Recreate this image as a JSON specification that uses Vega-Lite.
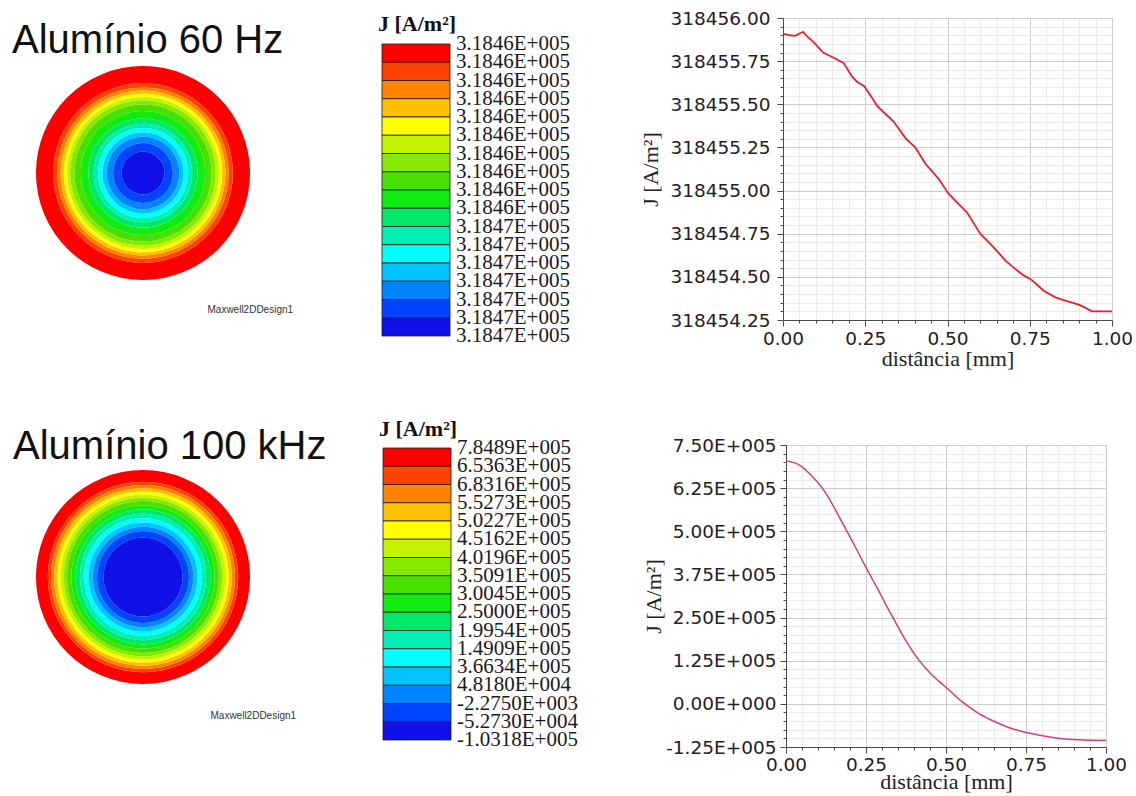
{
  "$schema": "https://vega.github.io/schema/vega-lite/v6.json",
  "background": "white",
  "padding": {"left": 12, "top": 8, "right": 2, "bottom": 0},
  "config": {"view": {"stroke": null}},
  "datasets": {
    "disc60": [
      {"band": 0, "ri": 0.84, "ro": 1.0}, {"band": 1, "ri": 0.80, "ro": 0.84}, {"band": 2, "ri": 0.77, "ro": 0.80},
      {"band": 3, "ri": 0.74, "ro": 0.77}, {"band": 4, "ri": 0.71, "ro": 0.74}, {"band": 5, "ri": 0.68, "ro": 0.71},
      {"band": 6, "ri": 0.64, "ro": 0.68}, {"band": 7, "ri": 0.58, "ro": 0.64}, {"band": 8, "ri": 0.51, "ro": 0.58},
      {"band": 9, "ri": 0.46, "ro": 0.51}, {"band": 10, "ri": 0.42, "ro": 0.46}, {"band": 11, "ri": 0.38, "ro": 0.42},
      {"band": 12, "ri": 0.34, "ro": 0.38}, {"band": 13, "ri": 0.28, "ro": 0.34}, {"band": 14, "ri": 0.20, "ro": 0.28},
      {"band": 15, "ri": 0.0, "ro": 0.20}
    ],
    "disc100": [
      {"band": 0, "ri": 0.89, "ro": 1.0}, {"band": 1, "ri": 0.86, "ro": 0.89}, {"band": 2, "ri": 0.83, "ro": 0.86},
      {"band": 3, "ri": 0.80, "ro": 0.83}, {"band": 4, "ri": 0.77, "ro": 0.80}, {"band": 5, "ri": 0.74, "ro": 0.77},
      {"band": 6, "ri": 0.71, "ro": 0.74}, {"band": 7, "ri": 0.67, "ro": 0.71}, {"band": 8, "ri": 0.63, "ro": 0.67},
      {"band": 9, "ri": 0.59, "ro": 0.63}, {"band": 10, "ri": 0.55, "ro": 0.59}, {"band": 11, "ri": 0.51, "ro": 0.55},
      {"band": 12, "ri": 0.47, "ro": 0.51}, {"band": 13, "ri": 0.43, "ro": 0.47}, {"band": 14, "ri": 0.37, "ro": 0.43},
      {"band": 15, "ri": 0.0, "ro": 0.37}
    ],
    "bands": [
      {"band": 0, "y0": 0, "y1": 1}, {"band": 1, "y0": 1, "y1": 2}, {"band": 2, "y0": 2, "y1": 3}, {"band": 3, "y0": 3, "y1": 4},
      {"band": 4, "y0": 4, "y1": 5}, {"band": 5, "y0": 5, "y1": 6}, {"band": 6, "y0": 6, "y1": 7}, {"band": 7, "y0": 7, "y1": 8},
      {"band": 8, "y0": 8, "y1": 9}, {"band": 9, "y0": 9, "y1": 10}, {"band": 10, "y0": 10, "y1": 11}, {"band": 11, "y0": 11, "y1": 12},
      {"band": 12, "y0": 12, "y1": 13}, {"band": 13, "y0": 13, "y1": 14}, {"band": 14, "y0": 14, "y1": 15}, {"band": 15, "y0": 15, "y1": 16}
    ],
    "labels60": [
      {"lvl": 0, "label": "3.1846E+005"}, {"lvl": 1, "label": "3.1846E+005"}, {"lvl": 2, "label": "3.1846E+005"},
      {"lvl": 3, "label": "3.1846E+005"}, {"lvl": 4, "label": "3.1846E+005"}, {"lvl": 5, "label": "3.1846E+005"},
      {"lvl": 6, "label": "3.1846E+005"}, {"lvl": 7, "label": "3.1846E+005"}, {"lvl": 8, "label": "3.1846E+005"},
      {"lvl": 9, "label": "3.1846E+005"}, {"lvl": 10, "label": "3.1847E+005"}, {"lvl": 11, "label": "3.1847E+005"},
      {"lvl": 12, "label": "3.1847E+005"}, {"lvl": 13, "label": "3.1847E+005"}, {"lvl": 14, "label": "3.1847E+005"},
      {"lvl": 15, "label": "3.1847E+005"}, {"lvl": 16, "label": "3.1847E+005"}
    ],
    "labels100": [
      {"lvl": 0, "label": "7.8489E+005"}, {"lvl": 1, "label": "6.5363E+005"}, {"lvl": 2, "label": "6.8316E+005"},
      {"lvl": 3, "label": "5.5273E+005"}, {"lvl": 4, "label": "5.0227E+005"}, {"lvl": 5, "label": "4.5162E+005"},
      {"lvl": 6, "label": "4.0196E+005"}, {"lvl": 7, "label": "3.5091E+005"}, {"lvl": 8, "label": "3.0045E+005"},
      {"lvl": 9, "label": "2.5000E+005"}, {"lvl": 10, "label": "1.9954E+005"}, {"lvl": 11, "label": "1.4909E+005"},
      {"lvl": 12, "label": "3.6634E+005"}, {"lvl": 13, "label": "4.8180E+004"}, {"lvl": 14, "label": "-2.2750E+003"},
      {"lvl": 15, "label": "-5.2730E+004"}, {"lvl": 16, "label": "-1.0318E+005"}
    ],
    "j60": [
      {"d": 0.000, "J": 318455.91}, {"d": 0.020, "J": 318455.90}, {"d": 0.037, "J": 318455.897}, {"d": 0.050, "J": 318455.91},
      {"d": 0.061, "J": 318455.92}, {"d": 0.075, "J": 318455.89}, {"d": 0.093, "J": 318455.86}, {"d": 0.122, "J": 318455.80},
      {"d": 0.154, "J": 318455.77}, {"d": 0.184, "J": 318455.74}, {"d": 0.210, "J": 318455.66}, {"d": 0.225, "J": 318455.63},
      {"d": 0.247, "J": 318455.605}, {"d": 0.270, "J": 318455.54}, {"d": 0.286, "J": 318455.49}, {"d": 0.311, "J": 318455.445},
      {"d": 0.336, "J": 318455.40}, {"d": 0.355, "J": 318455.35}, {"d": 0.374, "J": 318455.30}, {"d": 0.402, "J": 318455.25},
      {"d": 0.433, "J": 318455.155}, {"d": 0.473, "J": 318455.068}, {"d": 0.502, "J": 318454.985}, {"d": 0.529, "J": 318454.932},
      {"d": 0.559, "J": 318454.874}, {"d": 0.580, "J": 318454.81}, {"d": 0.600, "J": 318454.749}, {"d": 0.630, "J": 318454.691},
      {"d": 0.655, "J": 318454.64}, {"d": 0.676, "J": 318454.594}, {"d": 0.706, "J": 318454.546}, {"d": 0.730, "J": 318454.51},
      {"d": 0.752, "J": 318454.488}, {"d": 0.775, "J": 318454.45}, {"d": 0.792, "J": 318454.42}, {"d": 0.828, "J": 318454.381},
      {"d": 0.858, "J": 318454.362}, {"d": 0.899, "J": 318454.339}, {"d": 0.920, "J": 318454.32}, {"d": 0.939, "J": 318454.30},
      {"d": 1.000, "J": 318454.30}
    ],
    "j100": [
      {"d": 0.000, "J": 704000}, {"d": 0.042, "J": 692000}, {"d": 0.083, "J": 658000}, {"d": 0.125, "J": 610000},
      {"d": 0.166, "J": 542000}, {"d": 0.208, "J": 470000}, {"d": 0.249, "J": 397000}, {"d": 0.291, "J": 325000},
      {"d": 0.333, "J": 252000}, {"d": 0.374, "J": 184000}, {"d": 0.416, "J": 126000}, {"d": 0.457, "J": 83000},
      {"d": 0.499, "J": 49000}, {"d": 0.551, "J": 5500}, {"d": 0.603, "J": -28000}, {"d": 0.655, "J": -52500},
      {"d": 0.707, "J": -72000}, {"d": 0.759, "J": -84500}, {"d": 0.811, "J": -94000}, {"d": 0.863, "J": -100800},
      {"d": 0.915, "J": -104000}, {"d": 1.000, "J": -106000}
    ]
  },
  "spacing": 48,
  "vconcat": [
    {
      "spacing": 69,
      "hconcat": [
        {
          "spacing": 85,
          "hconcat": [
            {
              "width": 220, "height": 310,
              "data": {"name": "disc60"},
              "title": {"text": "Alumínio 60 Hz", "anchor": "start", "frame": "group", "offset": -43, "dx": -21, "font": "Liberation Sans", "fontSize": 40, "fontWeight": "normal", "color": "#111111"},
              "mark": {"type": "arc", "theta": 0, "theta2": 6.2832},
              "encoding": {
                "x": {"datum": 0, "type": "quantitative", "scale": {"domain": [-1, 1], "nice": false},
                      "axis": {"title": "Maxwell2DDesign1", "labels": false, "ticks": false, "domain": false, "grid": false, "titleX": 174, "titleY": -19, "titleAlign": "left", "titleBaseline": "middle", "titleFont": "Liberation Sans", "titleFontSize": 10, "titleFontWeight": "normal", "titleColor": "#333333"}},
                "radius": {"field": "ro", "type": "quantitative", "scale": {"type": "linear", "domain": [0, 1], "range": [0, 107], "zero": true}},
                "radius2": {"field": "ri"},
                "color": {"field": "band", "type": "ordinal", "legend": null,
                          "scale": {"domain": [0,1,2,3,4,5,6,7,8,9,10,11,12,13,14,15], "range": ["#ff0000","#ff4200","#ff8200","#ffc000","#ffff00","#c4f400","#88e800","#48e000","#10ec10","#00e868","#00f0b4","#00ffff","#00c4ff","#0084ff","#0044ff","#1010e8"]}}
              }
            },
            {
              "width": 68, "height": 318,
              "title": {"text": "J [A/m²]", "anchor": "start", "frame": "group", "offset": -18, "dx": -4, "font": "Liberation Serif", "fontSize": 22, "fontWeight": "bold", "color": "#111111"},
              "layer": [
                {
                  "data": {"name": "bands"},
                  "mark": {"type": "rect", "stroke": "#1a1a1a", "strokeWidth": 0.8},
                  "encoding": {
                    "y": {"field": "y0", "type": "quantitative", "scale": {"domain": [0, 16], "range": [26, 318]}, "axis": null},
                    "y2": {"field": "y1"},
                    "color": {"field": "band", "type": "ordinal", "legend": null,
                              "scale": {"domain": [0,1,2,3,4,5,6,7,8,9,10,11,12,13,14,15], "range": ["#ff0000","#ff4200","#ff8200","#ffc000","#ffff00","#c4f400","#88e800","#48e000","#10ec10","#00e868","#00f0b4","#00ffff","#00c4ff","#0084ff","#0044ff","#1010e8"]}}
                  }
                },
                {
                  "data": {"name": "labels60"},
                  "mark": {"type": "text", "x": "width", "dx": 6, "align": "left", "baseline": "middle", "font": "Liberation Serif", "fontSize": 21, "color": "#1a1a1a"},
                  "encoding": {
                    "y": {"field": "lvl", "type": "quantitative"},
                    "text": {"field": "label"}
                  }
                }
              ]
            }
          ]
        },
        {
          "width": 329, "height": 302,
          "view": {"stroke": "#9a9a9a"},
          "data": {"name": "j60"},
          "mark": {"type": "line", "color": "#e8202a", "strokeWidth": 1.8},
          "encoding": {
            "x": {"field": "d", "type": "quantitative", "scale": {"domain": [0, 1], "nice": false, "zero": false},
                  "axis": {"title": "distância [mm]", "values": [0,0.05,0.1,0.15,0.2,0.25,0.3,0.35,0.4,0.45,0.5,0.55,0.6,0.65,0.7,0.75,0.8,0.85,0.9,0.95,1],
                           "labelExpr": "abs(datum.value*4 - round(datum.value*4)) < 0.001 ? format(datum.value, '.2f') : ''",
                           "labelOverlap": false, "labelFlush": false, "labelFont": "DejaVu Sans", "labelFontSize": 18.5, "labelColor": "#222222", "labelPadding": 3,
                           "tickSize": {"condition": {"test": "abs(datum.value*4 - round(datum.value*4)) < 0.001", "value": 6}, "value": 3},
                           "tickColor": "#4a4a4a", "domainColor": "#4a4a4a", "grid": true,
                           "gridColor": {"condition": {"test": "abs(datum.value*4 - round(datum.value*4)) < 0.001", "value": "#cccccc"}, "value": "#ebebeb"},
                           "titleFont": "Liberation Serif", "titleFontSize": 22, "titleFontWeight": "normal", "titleColor": "#222222", "titlePadding": 1}},
            "y": {"field": "J", "type": "quantitative", "scale": {"domain": [318454.25, 318456], "nice": false, "zero": false},
                  "axis": {"title": "J [A/m²]", "values": [318454.25,318454.3,318454.35,318454.4,318454.45,318454.5,318454.55,318454.6,318454.65,318454.7,318454.75,318454.8,318454.85,318454.9,318454.95,318455,318455.05,318455.1,318455.15,318455.2,318455.25,318455.3,318455.35,318455.4,318455.45,318455.5,318455.55,318455.6,318455.65,318455.7,318455.75,318455.8,318455.85,318455.9,318455.95,318456],
                           "labelExpr": "abs(datum.value*4 - round(datum.value*4)) < 0.001 ? format(datum.value, '.2f') : ''",
                           "labelOverlap": false, "labelFont": "DejaVu Sans", "labelFontSize": 18.5, "labelColor": "#222222", "labelPadding": 7,
                           "tickSize": {"condition": {"test": "abs(datum.value*4 - round(datum.value*4)) < 0.001", "value": 6}, "value": 3},
                           "tickColor": "#4a4a4a", "domainColor": "#4a4a4a", "grid": true,
                           "gridColor": {"condition": {"test": "abs(datum.value*4 - round(datum.value*4)) < 0.001", "value": "#cccccc"}, "value": "#ebebeb"},
                           "titleFont": "Liberation Serif", "titleFontSize": 22, "titleFontWeight": "normal", "titleColor": "#222222", "titlePadding": 7}}
          }
        }
      ]
    },
    {
      "spacing": 64,
      "hconcat": [
        {
          "spacing": 52,
          "hconcat": [
            {
              "width": 220, "height": 264,
              "data": {"name": "disc100"},
              "title": {"text": "Alumínio 100 kHz", "anchor": "start", "frame": "group", "offset": -22, "dx": -20, "font": "Liberation Sans", "fontSize": 40, "fontWeight": "normal", "color": "#111111"},
              "mark": {"type": "arc", "theta": 0, "theta2": 6.2832},
              "encoding": {
                "x": {"datum": 0, "type": "quantitative", "scale": {"domain": [-1, 1], "nice": false},
                      "axis": {"title": "Maxwell2DDesign1", "labels": false, "ticks": false, "domain": false, "grid": false, "titleX": 177, "titleY": 6, "titleAlign": "left", "titleBaseline": "middle", "titleFont": "Liberation Sans", "titleFontSize": 10, "titleFontWeight": "normal", "titleColor": "#333333"}},
                "radius": {"field": "ro", "type": "quantitative", "scale": {"type": "linear", "domain": [0, 1], "range": [0, 107], "zero": true}},
                "radius2": {"field": "ri"},
                "color": {"field": "band", "type": "ordinal", "legend": null,
                          "scale": {"domain": [0,1,2,3,4,5,6,7,8,9,10,11,12,13,14,15], "range": ["#ff0000","#ff4200","#ff8200","#ffc000","#ffff00","#c4f400","#88e800","#48e000","#10ec10","#00e868","#00f0b4","#00ffff","#00c4ff","#0084ff","#0044ff","#1010e8"]}}
              }
            },
            {
              "width": 68, "height": 295,
              "title": {"text": "J [A/m²]", "anchor": "start", "frame": "group", "offset": -4, "dx": -4, "font": "Liberation Serif", "fontSize": 22, "fontWeight": "bold", "color": "#111111"},
              "layer": [
                {
                  "data": {"name": "bands"},
                  "mark": {"type": "rect", "stroke": "#1a1a1a", "strokeWidth": 0.8},
                  "encoding": {
                    "y": {"field": "y0", "type": "quantitative", "scale": {"domain": [0, 16], "range": [3, 295]}, "axis": null},
                    "y2": {"field": "y1"},
                    "color": {"field": "band", "type": "ordinal", "legend": null,
                              "scale": {"domain": [0,1,2,3,4,5,6,7,8,9,10,11,12,13,14,15], "range": ["#ff0000","#ff4200","#ff8200","#ffc000","#ffff00","#c4f400","#88e800","#48e000","#10ec10","#00e868","#00f0b4","#00ffff","#00c4ff","#0084ff","#0044ff","#1010e8"]}}
                  }
                },
                {
                  "data": {"name": "labels100"},
                  "mark": {"type": "text", "x": "width", "dx": 6, "align": "left", "baseline": "middle", "font": "Liberation Serif", "fontSize": 21, "color": "#1a1a1a"},
                  "encoding": {
                    "y": {"field": "lvl", "type": "quantitative"},
                    "text": {"field": "label"}
                  }
                }
              ]
            }
          ]
        },
        {
          "width": 320, "height": 302,
          "view": {"stroke": "#9a9a9a"},
          "data": {"name": "j100"},
          "mark": {"type": "line", "color": "#d4406a", "strokeWidth": 1.5, "interpolate": "monotone"},
          "encoding": {
            "x": {"field": "d", "type": "quantitative", "scale": {"domain": [0, 1], "nice": false, "zero": false},
                  "axis": {"title": "distância [mm]", "values": [0,0.05,0.1,0.15,0.2,0.25,0.3,0.35,0.4,0.45,0.5,0.55,0.6,0.65,0.7,0.75,0.8,0.85,0.9,0.95,1],
                           "labelExpr": "abs(datum.value*4 - round(datum.value*4)) < 0.001 ? format(datum.value, '.2f') : ''",
                           "labelOverlap": false, "labelFlush": false, "labelFont": "DejaVu Sans", "labelFontSize": 18.5, "labelColor": "#222222", "labelPadding": 2,
                           "tickSize": {"condition": {"test": "abs(datum.value*4 - round(datum.value*4)) < 0.001", "value": 6}, "value": 3},
                           "tickColor": "#4a4a4a", "domainColor": "#4a4a4a", "grid": true,
                           "gridColor": {"condition": {"test": "abs(datum.value*4 - round(datum.value*4)) < 0.001", "value": "#cccccc"}, "value": "#ebebeb"},
                           "titleFont": "Liberation Serif", "titleFontSize": 22, "titleFontWeight": "normal", "titleColor": "#222222", "titlePadding": -2}},
            "y": {"field": "J", "type": "quantitative", "scale": {"domain": [-125000, 750000], "nice": false, "zero": false},
                  "axis": {"title": "J [A/m²]", "values": [-125000,-100000,-75000,-50000,-25000,0,25000,50000,75000,100000,125000,150000,175000,200000,225000,250000,275000,300000,325000,350000,375000,400000,425000,450000,475000,500000,525000,550000,575000,600000,625000,650000,675000,700000,725000,750000],
                           "labelExpr": "abs(datum.value/125000 - round(datum.value/125000)) < 0.000001 ? (datum.value == 0 ? '0.00E+000' : (datum.value < 0 ? '-' : '') + format(abs(datum.value)/100000, '.2f') + 'E+005') : ''",
                           "labelOverlap": false, "labelFont": "DejaVu Sans", "labelFontSize": 18.5, "labelColor": "#222222", "labelPadding": 4,
                           "tickSize": {"condition": {"test": "abs(datum.value/125000 - round(datum.value/125000)) < 0.000001", "value": 6}, "value": 3},
                           "tickColor": "#4a4a4a", "domainColor": "#4a4a4a", "grid": true,
                           "gridColor": {"condition": {"test": "abs(datum.value/125000 - round(datum.value/125000)) < 0.000001", "value": "#cccccc"}, "value": "#ebebeb"},
                           "titleFont": "Liberation Serif", "titleFontSize": 22, "titleFontWeight": "normal", "titleColor": "#222222", "titlePadding": 0}}
          }
        }
      ]
    }
  ]
}
